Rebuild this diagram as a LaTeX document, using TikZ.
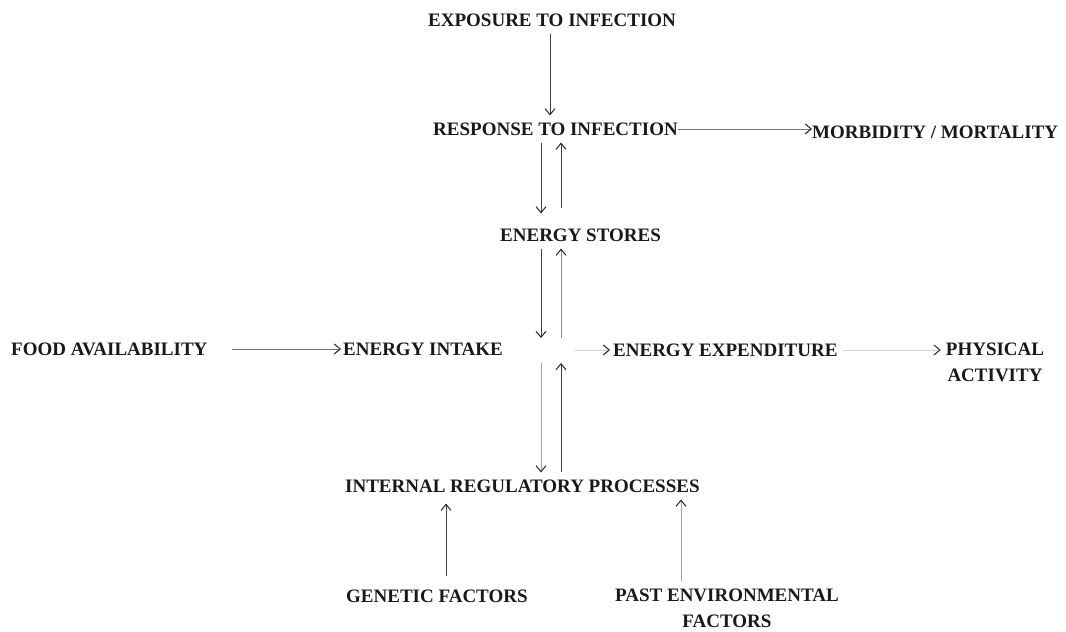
\documentclass[tikz,border=0pt]{standalone}
\usepackage{fontspec}
\setmainfont{Liberation Serif}
\usetikzlibrary{arrows.meta}
\begin{document}
\begin{tikzpicture}[x=1pt,y=-1pt,
  lbl/.style={inner xsep=0pt, inner ysep=7pt, font=\fontsize{19}{26}\selectfont\bfseries, text=black!90},
  arr/.style={draw=black!75, line width=0.8pt, -{Straight Barb[length=6pt,width=10pt,line width=1pt,color=black!85]}},
  faint/.style={draw=black!18, line width=0.8pt, -{Straight Barb[length=6pt,width=10pt,line width=1pt,color=black!85]}}
]
\useasboundingbox[fill=white] (0,0) rectangle (1066,632);

% nodes
\node[lbl, anchor=west] (expo)   at (428,20)  {EXPOSURE TO INFECTION};
\node[lbl, anchor=west] (resp)   at (433,129) {RESPONSE TO INFECTION};
\node[lbl, anchor=west] (morb)   at (812,132) {MORBIDITY / MORTALITY};
\node[lbl, anchor=west] (stores) at (500,235) {ENERGY STORES};
\node[lbl, anchor=west] (food)   at (11,349)  {FOOD AVAILABILITY};
\node[lbl, anchor=west] (intake) at (343,349) {ENERGY INTAKE};
\node[lbl, anchor=west] (expend) at (613,350) {ENERGY EXPENDITURE};
\node[lbl, align=center, inner xsep=5pt] (phys) at (995,362) {PHYSICAL\\ACTIVITY};
\node[lbl, anchor=west] (irp)    at (345,486) {INTERNAL REGULATORY PROCESSES};
\node[lbl, anchor=west] (gen)    at (346,596) {GENETIC FACTORS};
\node[lbl, align=center] (past)  at (727,608) {PAST ENVIRONMENTAL\\FACTORS};

% guide coordinates
\coordinate (xa) at (550,0);
\coordinate (xl) at (541,0);
\coordinate (xr) at (561,0);
\coordinate (xg) at (446,0);
\coordinate (xp) at (681,0);
\coordinate (hubtop) at (552,338);
\coordinate (hubbot) at (552,363);
\coordinate (hubright) at (575,350);

% connectors
\draw[arr] (expo.south -| xa) -- (resp.north -| xa);
\draw[arr, draw=black!55] (resp.east) -- (resp.east -| morb.west);
\draw[arr, shorten >=8pt] (resp.south -| xl) -- (stores.north -| xl);
\draw[arr, shorten <=13pt] (stores.north -| xr) -- (resp.south -| xr);
\draw[arr] (stores.south -| xl) -- (hubtop -| xl);
\draw[arr, draw=black!45] (hubtop -| xr) -- (stores.south -| xr);
\draw[arr, draw=black!55, shorten <=24pt, shorten >=2pt] (food.east) -- (intake.west);
\draw[faint] (hubright) -- ([xshift=-3pt]expend.west);
\draw[faint] ([xshift=5pt]expend.east) -- (expend.east -| phys.west);
\draw[arr, draw=black!35] (hubbot -| xl) -- (irp.north -| xl);
\draw[arr] (irp.north -| xr) -- (hubbot -| xr);
\draw[arr, shorten >=4pt, shorten <=6pt] (gen.north -| xg) -- (irp.south -| xg);
\draw[arr, draw=black!35] (past.north -| xp) -- (irp.south -| xp);
\end{tikzpicture}
\end{document}
